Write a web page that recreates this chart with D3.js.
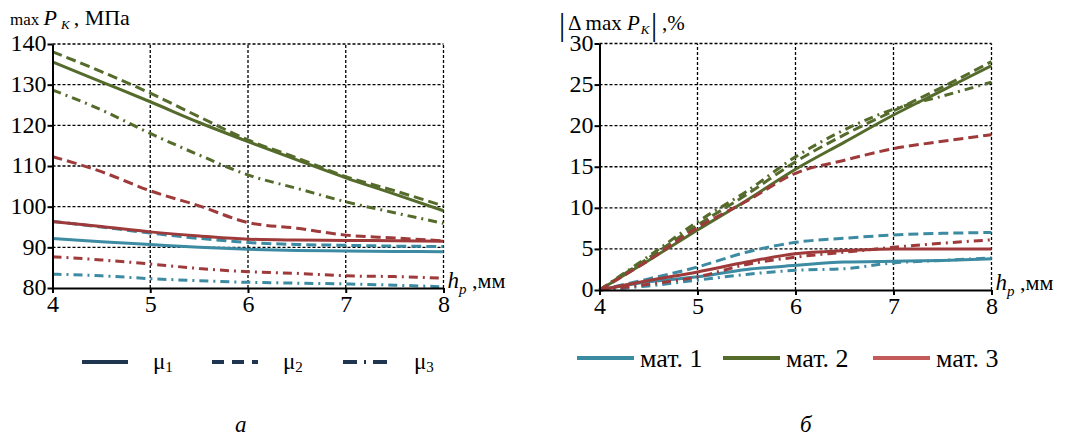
<!DOCTYPE html>
<html>
<head>
<meta charset="utf-8">
<script src="https://d3js.org/d3.v7.min.js"></script>
<style>
  body { margin: 0; background: #fff; }
  .grid line { stroke: #000; stroke-width: 1.3; stroke-dasharray: 3,2; }
  .axis path, .axis line { stroke: #000; stroke-width: 2; }
  .serie { fill: none; stroke-width: 3; }
</style>
</head>
<body>
<script>
// h_p, mm
var hp = [4, 4.5, 5, 5.5, 6, 6.5, 7, 7.5, 8];

// left chart: max P_K, MPa  (mat = material, mu = friction case)
var pMat1Mu1 = [92.2, 91.4, 90.7, 90.0, 89.5, 89.2, 89.1, 89.0, 88.9];
var pMat1Mu2 = [96.4, 95.0, 93.5, 92.2, 91.2, 90.7, 90.5, 90.3, 90.2];
var pMat1Mu3 = [83.4, 83.0, 82.3, 81.8, 81.4, 81.2, 81.0, 80.7, 80.3];
var pMat2Mu1 = [135.6, 130.7, 125.8, 120.7, 116.0, 111.5, 107.1, 103.1, 99.0];
var pMat2Mu2 = [138.1, 133.2, 127.9, 122.1, 116.4, 112.0, 107.4, 103.9, 100.2];
var pMat2Mu3 = [128.7, 123.8, 118.0, 112.7, 107.8, 104.5, 101.2, 98.5, 95.9];
var pMat3Mu1 = [96.3, 95.1, 93.8, 92.8, 92.0, 91.8, 91.7, 91.6, 91.5];
var pMat3Mu2 = [112.3, 108.6, 103.9, 100.2, 96.1, 94.7, 93.0, 92.3, 91.6];
var pMat3Mu3 = [87.7, 86.9, 85.9, 84.8, 84.0, 83.6, 83.0, 82.8, 82.4];

// right chart: |delta max P_K|, %
var dMat1Mu1 = [0, 1.0, 1.6, 2.5, 3.0, 3.4, 3.5, 3.6, 3.8];
var dMat1Mu2 = [0, 1.35, 2.8, 4.6, 5.8, 6.3, 6.7, 6.9, 7.0];
var dMat1Mu3 = [0, 0.5, 1.2, 1.9, 2.4, 2.6, 3.3, 3.6, 3.9];
var dMat2Mu1 = [0, 3.6, 7.3, 10.9, 14.7, 18.0, 21.3, 24.3, 27.3];
var dMat2Mu2 = [0, 3.9, 7.9, 11.6, 15.6, 18.9, 21.8, 24.7, 27.8];
var dMat2Mu3 = [0, 4.1, 8.3, 12.0, 16.2, 19.5, 22.0, 23.6, 25.3];
var dMat3Mu1 = [0, 1.15, 2.2, 3.4, 4.4, 4.8, 5.0, 5.0, 5.0];
var dMat3Mu2 = [0, 3.6, 7.6, 10.8, 14.2, 15.8, 17.2, 18.1, 18.9];
var dMat3Mu3 = [0, 0.7, 1.6, 3.1, 4.0, 4.6, 5.2, 5.7, 6.1];

var xTicks = [4, 5, 6, 7, 8];
var pTicks = [80, 90, 100, 110, 120, 130, 140];
var dTicks = [0, 5, 10, 15, 20, 25, 30];
var matNames = ["мат. 1", "мат. 2", "мат. 3"];
var muNames = ["1", "2", "3"];

var matColor = ["#3d8ba3", "#556b2c", "#9e3a3a"];
var legColor = ["#3a8aa0", "#556b2c", "#c45a5a"];
var muDash = [null, "10,5", "9,5,2,5"];
var serif = "Liberation Serif";

var svg = d3.select("body").append("svg")
    .attr("width", 1078).attr("height", 441)
    .attr("font-family", serif);

function panel(box, yDomain, yTicks, series) {
    var x = d3.scaleLinear().domain([4, 8]).range([box.x0, box.x1]);
    var y = d3.scaleLinear().domain(yDomain).range([box.y0, box.y1]);
    var g = svg.append("g");

    // grid
    var grid = g.append("g").attr("class", "grid");
    grid.selectAll(".gx").data(xTicks.slice(1)).enter().append("line")
        .attr("x1", d => x(d)).attr("x2", d => x(d))
        .attr("y1", y(yDomain[0])).attr("y2", y(yDomain[1]));
    grid.selectAll(".gy").data(yTicks.slice(1)).enter().append("line")
        .attr("x1", x(4)).attr("x2", x(8))
        .attr("y1", d => y(d)).attr("y2", d => y(d));

    // lines
    var line = d3.line().x((d, i) => x(hp[i])).y(d => y(d)).curve(d3.curveMonotoneX);
    series.forEach(function(s) {
        g.append("path").attr("class", "serie")
            .attr("d", line(s.v))
            .attr("stroke", matColor[s.m])
            .attr("stroke-dasharray", muDash[s.u]);
    });

    // axes
    var ax = g.append("g").attr("class", "axis")
        .attr("transform", "translate(0," + y(yDomain[0]) + ")")
        .call(d3.axisBottom(x).tickValues(xTicks).tickFormat(d3.format("d"))
            .tickSize(5).tickSizeOuter(0).tickPadding(2));
    ax.attr("font-family", serif).attr("font-size", 24);
    ax.selectAll("text").attr("fill", "#000");
    var ay = g.append("g").attr("class", "axis")
        .attr("transform", "translate(" + x(4) + ",0)")
        .call(d3.axisLeft(y).tickValues(yTicks).tickFormat(d3.format("d"))
            .tickSize(5).tickSizeOuter(0).tickPadding(1));
    ay.attr("font-family", serif).attr("font-size", 24);
    ay.selectAll("text").attr("fill", "#000").attr("dy", "0.28em");

    // h_p label
    var hl = g.append("text").attr("x", box.x1 + 4).attr("y", y(yDomain[0])).attr("font-size", 23);
    hl.append("tspan").attr("font-style", "italic").text("h");
    hl.append("tspan").attr("font-style", "italic").attr("font-size", 15).attr("dy", 6).text("p");
    hl.append("tspan").attr("dy", -6).attr("font-size", 22).text(" ,мм");
    return g;
}

var left = [];
var right = [];
[[pMat1Mu1, pMat1Mu2, pMat1Mu3], [pMat2Mu1, pMat2Mu2, pMat2Mu3], [pMat3Mu1, pMat3Mu2, pMat3Mu3]]
    .forEach((arr, m) => arr.forEach((v, u) => left.push({v: v, m: m, u: u})));
[[dMat1Mu1, dMat1Mu2, dMat1Mu3], [dMat2Mu1, dMat2Mu2, dMat2Mu3], [dMat3Mu1, dMat3Mu2, dMat3Mu3]]
    .forEach((arr, m) => arr.forEach((v, u) => right.push({v: v, m: m, u: u})));

panel({x0: 52.5, x1: 443.5, y0: 288, y1: 44}, [80, 140], pTicks, left);
panel({x0: 599.5, x1: 991.5, y0: 290, y1: 43.5}, [0, 30], dTicks, right);

// titles
var t1 = svg.append("text").attr("x", 10).attr("y", 25);
t1.append("tspan").attr("font-size", 17).text("max ");
t1.append("tspan").attr("font-style", "italic").attr("font-size", 22).text("P");
t1.append("tspan").attr("font-style", "italic").attr("font-size", 13).attr("dy", 4).attr("dx", 4).text("K");
t1.append("tspan").attr("font-size", 22).attr("dy", -4).attr("dx", 4).text(", МПа");

svg.append("text").attr("x", 559).attr("y", 35).attr("font-size", 31).text("|");
var t2 = svg.append("text").attr("x", 568).attr("y", 30).attr("font-size", 21);
t2.append("tspan").text("Δ max ");
t2.append("tspan").attr("font-style", "italic").text("P");
t2.append("tspan").attr("font-style", "italic").attr("font-size", 13).attr("dy", 4).attr("dx", 1).text("K");
svg.append("text").attr("x", 651).attr("y", 35).attr("font-size", 31).text("|");
svg.append("text").attr("x", 662).attr("y", 30).attr("font-size", 21).text(",%");

// legend: friction cases
var lg1 = svg.append("g");
var muX = [82, 212, 343];
muNames.forEach(function(n, i) {
    lg1.append("line").attr("x1", muX[i]).attr("x2", muX[i] + 46)
        .attr("y1", 362).attr("y2", 362)
        .attr("stroke", "#1f3550").attr("stroke-width", 4)
        .attr("stroke-dasharray", i == 1 ? "12,8" : i == 2 ? "14,7,2,7" : null);
    var t = lg1.append("text").attr("x", muX[i] + 71).attr("y", 369).attr("font-size", 23);
    t.append("tspan").text("μ");
    t.append("tspan").attr("font-size", 15).attr("dy", 3).text(n);
});

// legend: materials
var lg2 = svg.append("g");
var matX = [577, 723, 873];
matNames.forEach(function(n, i) {
    lg2.append("line").attr("x1", matX[i]).attr("x2", matX[i] + 57)
        .attr("y1", 358).attr("y2", 358)
        .attr("stroke", legColor[i]).attr("stroke-width", 4);
    lg2.append("text").attr("x", matX[i] + 63).attr("y", 367).attr("font-size", 26).text(n);
});

svg.append("text").attr("x", 235).attr("y", 432).attr("font-size", 23).attr("font-style", "italic").text("а");
svg.append("text").attr("x", 800).attr("y", 432).attr("font-size", 23).attr("font-style", "italic").text("б");
</script>
</body>
</html>
